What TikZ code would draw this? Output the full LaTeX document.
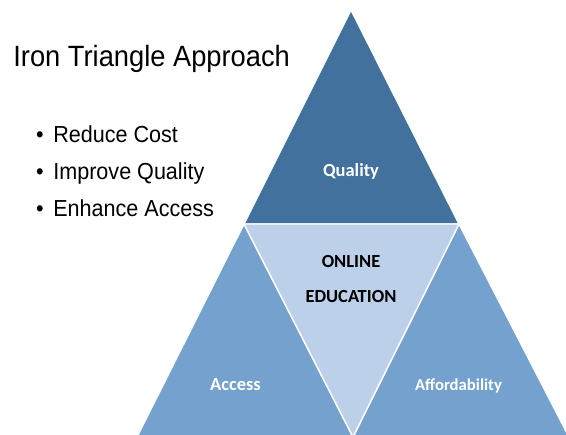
\documentclass[tikz,border=0pt]{standalone}
\usepackage{fontspec}
\setmainfont{Carlito}
\newfontfamily\slidefont[FakeStretch=0.93]{Liberation Sans}
\usetikzlibrary{positioning}
\definecolor{topblue}{RGB}{65,113,156}
\definecolor{sideblue}{RGB}{116,161,206}
\definecolor{midblue}{RGB}{189,208,233}
\tikzset{
  % triangles
	csttop/.style      ={fill=topblue, draw=white, line width=0.8pt, line join=miter},
	cstside/.style     ={fill=sideblue, draw=white, line width=0.8pt, line join=miter},
	cstmid/.style      ={fill=midblue, draw=white, line width=0.8pt, line join=miter},
  % text
	cstlabel/.style    ={anchor=base, inner sep=0pt, text=white, font=\fontsize{10.5}{12}\selectfont\bfseries},
	cstlabelm/.style   ={anchor=base, inner sep=0pt, text=black, font=\fontsize{10.5}{12}\selectfont\bfseries},
	csttitle/.style    ={anchor=base west, inner sep=0pt, font=\fontsize{16.7}{20}\slidefont},
	cstitem/.style     ={anchor=base west, inner sep=0pt, font=\fontsize{13.2}{16}\slidefont}
}
\begin{document}
\begin{tikzpicture}[x=0.02cm,y=-0.02cm]
			\useasboundingbox (0,0) rectangle (566,435);
			\coordinate (apex) at (351,10);
			\coordinate (ql) at (244,224);
			\coordinate (qr) at (459,224);
			\coordinate (mid) at (353,437);
			\coordinate (bl) at (137,437);
			\coordinate (br) at (569,437);
			\filldraw[csttop] (apex)--(ql)--(qr)--cycle;
			\filldraw[cstside] (ql)--(bl)--(mid)--cycle;
			\filldraw[cstside] (qr)--(mid)--(br)--cycle;
			\filldraw[cstmid] (ql)--(qr)--(mid)--cycle;
			\node[cstlabel] (quality) at (351,176.5) {Quality};
			\node[cstlabelm] (online) at (351,268) {ONLINE};
			\node[cstlabelm] (education) at (351,303) {EDUCATION};
			\node[cstlabel] (access) at (235.5,391) {Access};
			\node[cstlabel, font=\fontsize{9.5}{12}\selectfont\bfseries] (afford) at (458.5,391) {Affordability};
			\node[csttitle] (title) at (13,67) {Iron Triangle Approach};
			\node[cstitem] (cost) at (53,143) {\llap{\textbullet\hspace{5.5pt}}Reduce Cost};
			\node[cstitem] (improve) at (53,180) {\llap{\textbullet\hspace{5.5pt}}Improve Quality};
			\node[cstitem] (enhance) at (53,217) {\llap{\textbullet\hspace{5.5pt}}Enhance Access};
		\end{tikzpicture}
\end{document}
